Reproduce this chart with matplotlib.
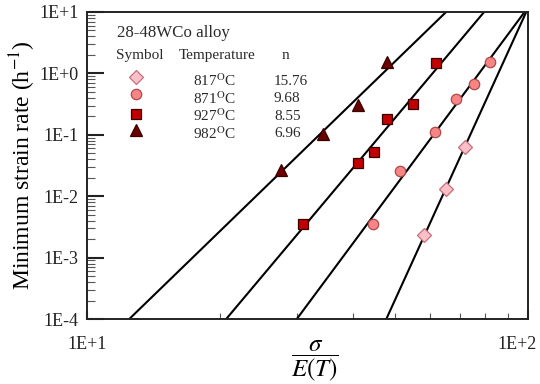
import numpy as np
import matplotlib
matplotlib.use('Agg')
import matplotlib.pyplot as plt
from matplotlib.transforms import ScaledTranslation

plt.rcParams['font.family'] = ['Liberation Serif', 'DejaVu Serif']
plt.rcParams['mathtext.fontset'] = 'stix'

# data (sigma/E(T), minimum strain rate in 1/h)
temps = ['817', '871', '927', '982']
n_vals = [15.76, 9.68, 8.55, 6.96]

x_817 = [58.1, 65.2, 71.9]
y_817 = [0.00233, 0.0130, 0.064]

x_871 = [44.6, 51.3, 61.5, 68.5, 75.4, 82.0]
y_871 = [0.0035, 0.0257, 0.110, 0.383, 0.68, 1.52]

x_927 = [30.9, 41.2, 44.7, 48.0, 54.9, 61.8]
y_927 = [0.00348, 0.0344, 0.0531, 0.179, 0.318, 1.46]

x_982 = [27.5, 34.3, 41.1, 47.8]
y_982 = [0.0267, 0.103, 0.306, 1.55]

xs = [x_817, x_871, x_927, x_982]
ys = [y_817, y_871, y_927, y_982]

markers = ['D', 'o', 's', '^']
msizes = [7, 7.5, 7, 8]
faces = ['#FFBFC8', '#F78585', '#C00000', '#6A0000']
edges = ['#C0707A', '#B04848', '#3A0000', '#3A0000']

fig = plt.figure(figsize=(5.4, 3.84), dpi=100)
ax = fig.add_axes([87 / 540, 1 - 319 / 384, 441 / 540, 307 / 384])

# power law lines, slope n fixed, intercept fitted to the points
xl = np.logspace(0.9, 2.2, 200)
for x, y, n in zip(xs, ys, n_vals):
    c = np.mean(np.log10(y) - n * np.log10(x))
    ax.plot(xl, 10 ** (n * np.log10(xl) + c), color='black', lw=1.5, zorder=2)

for x, y, m, s, f, e in zip(xs, ys, markers, msizes, faces, edges):
    ax.plot(x, y, m, ms=s, mfc=f, mec=e, mew=0.9, ls='none', zorder=3)

ax.set_xscale('log')
ax.set_yscale('log')
ax.set_xlim(10, 100)
ax.set_ylim(1e-4, 10)

ax.set_xticks([10, 100])
ax.set_xticklabels(['1E+1', '1E+2'])
ax.set_yticks([1e-4, 1e-3, 1e-2, 1e-1, 1, 10])
ax.set_yticklabels(['1E-4', '1E-3', '1E-2', '1E-1', '1E+0', '1E+1'])
ax.tick_params(axis='both', which='major', direction='in', labelsize=13,
               colors='#222222', width=1.5)
ax.tick_params(axis='y', which='major', length=12, pad=6)
ax.tick_params(axis='x', which='major', length=6, pad=12)
ax.tick_params(axis='y', which='minor', direction='in', length=6, width=0.8,
               colors='#555555')
ax.tick_params(axis='x', which='minor', direction='in', length=4, width=0.8,
               colors='#555555')
ax.xaxis.set_minor_formatter(matplotlib.ticker.NullFormatter())
for sp in ax.spines.values():
    sp.set_linewidth(1.4)
    sp.set_color('#222222')

# the last x label sits pulled in from the corner
lab = ax.get_xticklabels()[-1]
lab.set_horizontalalignment('right')
lab.set_transform(lab.get_transform() + ScaledTranslation(0.09, 0, fig.dpi_scale_trans))

ax.set_ylabel('Minimum strain rate (h$^{\\mathrm{-1}}$)', fontsize=17, labelpad=1)
fig.text(315 / 540, 1 - 361 / 384, r'$\dfrac{\sigma}{E(T)}$', fontsize=18,
         ha='center', va='center')

# legend drawn as a small table
tc = '#2a2a2a'
ax.text(0.068, 0.932, '28-48WCo alloy', transform=ax.transAxes, fontsize=12.2,
        va='center', color=tc)
ax.text(0.066, 0.857, 'Symbol', transform=ax.transAxes, fontsize=11,
        va='center', color=tc)
ax.text(0.209, 0.857, 'Temperature', transform=ax.transAxes, fontsize=11,
        va='center', color=tc)
ax.text(0.451, 0.857, 'n', transform=ax.transAxes, fontsize=11,
        va='center', ha='center', color=tc)
mark_y = [0.788, 0.733, 0.668, 0.616]
text_y = [0.775, 0.717, 0.661, 0.603]
for i in range(4):
    ax.plot([0.111], [mark_y[i]], markers[i], ms=msizes[i], mfc=faces[i],
            mec=edges[i], mew=0.9, transform=ax.transAxes, clip_on=False)
    ax.text(0.240, text_y[i], temps[i] + '$^{\\mathrm{O}}$C',
            transform=ax.transAxes, fontsize=11, va='center', color=tc)
    ax.text(0.424, text_y[i], '%.2f' % n_vals[i], transform=ax.transAxes,
            fontsize=11, va='center', color=tc)

fig.savefig('out.png', dpi=100)
